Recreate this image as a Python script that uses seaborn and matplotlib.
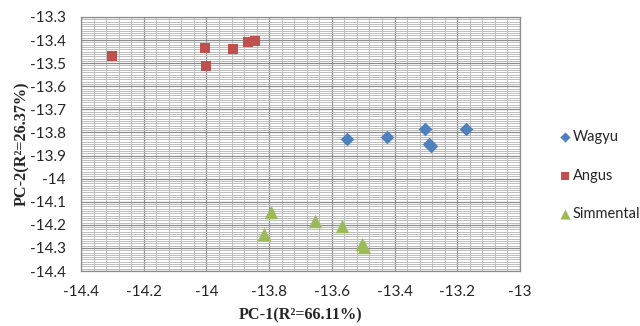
import matplotlib
matplotlib.use("Agg")
import matplotlib.pyplot as plt
from matplotlib.ticker import MultipleLocator
import seaborn as sns
import pandas as pd

# PCA scores
wagyu_x = [-13.551, -13.425, -13.302, -13.290, -13.283, -13.172]
wagyu_y = [-13.830, -13.820, -13.784, -13.848, -13.858, -13.786]
angus_x = [-14.302, -14.005, -14.001, -13.914, -13.867, -13.845]
angus_y = [-13.469, -13.434, -13.511, -13.440, -13.410, -13.404]
simm_x = [-13.795, -13.816, -13.654, -13.569, -13.503, -13.498]
simm_y = [-14.146, -14.240, -14.182, -14.207, -14.283, -14.295]

breeds = ["Wagyu", "Angus", "Simmental"]
colors = {"Wagyu": "#4F81BD", "Angus": "#C0504D", "Simmental": "#9BBB59"}
markers = {"Wagyu": "D", "Angus": "s", "Simmental": "^"}
sizes = {"Wagyu": 48, "Angus": 60, "Simmental": 95}

df = pd.DataFrame({
    "x": wagyu_x + angus_x + simm_x,
    "y": wagyu_y + angus_y + simm_y,
    "breed": ["Wagyu"] * len(wagyu_x) + ["Angus"] * len(angus_x) + ["Simmental"] * len(simm_x),
})

sns.set_style("white")
plt.rcParams["font.family"] = ["Lato", "DejaVu Sans"]

fig = plt.figure(figsize=(6.4, 3.26), dpi=100)
ax = fig.add_axes([0.1266, 0.1687, 0.6859, 0.7792])

for b in breeds:
    sns.scatterplot(data=df[df["breed"] == b], x="x", y="y", color=colors[b],
                    marker=markers[b], s=sizes[b], linewidth=0, label=b,
                    ax=ax, zorder=3)

ax.set_xlim(-14.4, -13.0)
ax.set_ylim(-14.4, -13.3)
ax.xaxis.set_major_locator(MultipleLocator(0.2))
ax.xaxis.set_minor_locator(MultipleLocator(0.04))
ax.yaxis.set_major_locator(MultipleLocator(0.1))
ax.yaxis.set_minor_locator(MultipleLocator(0.01))
ax.grid(which="major", color="#8c8c8c", linewidth=0.9)
ax.grid(which="minor", color="#bdbdbd", linewidth=0.7)
ax.set_axisbelow(True)
for s in ax.spines.values():
    s.set_color("#8c8c8c")
    s.set_linewidth(0.9)

ax.set_xticks([-14.4, -14.2, -14, -13.8, -13.6, -13.4, -13.2, -13])
ax.set_xticklabels(["-14.4", "-14.2", "-14", "-13.8", "-13.6", "-13.4", "-13.2", "-13"])
ax.set_yticks([-13.3, -13.4, -13.5, -13.6, -13.7, -13.8, -13.9, -14, -14.1, -14.2, -14.3, -14.4])
ax.set_yticklabels(["-13.3", "-13.4", "-13.5", "-13.6", "-13.7", "-13.8", "-13.9", "-14",
                    "-14.1", "-14.2", "-14.3", "-14.4"])
ax.tick_params(axis="x", which="both", length=0, labelsize=11, pad=10)
ax.tick_params(axis="y", which="both", length=0, labelsize=11, pad=11)

ax.set_xlabel("PC-1(R²=66.11%)", fontfamily="Liberation Serif",
              fontweight="bold", fontsize=11.7, labelpad=6)
ax.set_ylabel("PC-2(R²=26.37%)", fontfamily="Liberation Serif",
              fontweight="bold", fontsize=11.7, labelpad=0)

handles, labels = ax.get_legend_handles_labels()
ax.legend_.remove()
fig.legend(handles, labels, loc="upper left", bbox_to_anchor=(0.862, 0.62),
           frameon=False, fontsize=10.5, labelspacing=1.7, handletextpad=0.05,
           handlelength=1.0, markerscale=0.75, borderaxespad=0)

fig.savefig("out.png", dpi=100)
